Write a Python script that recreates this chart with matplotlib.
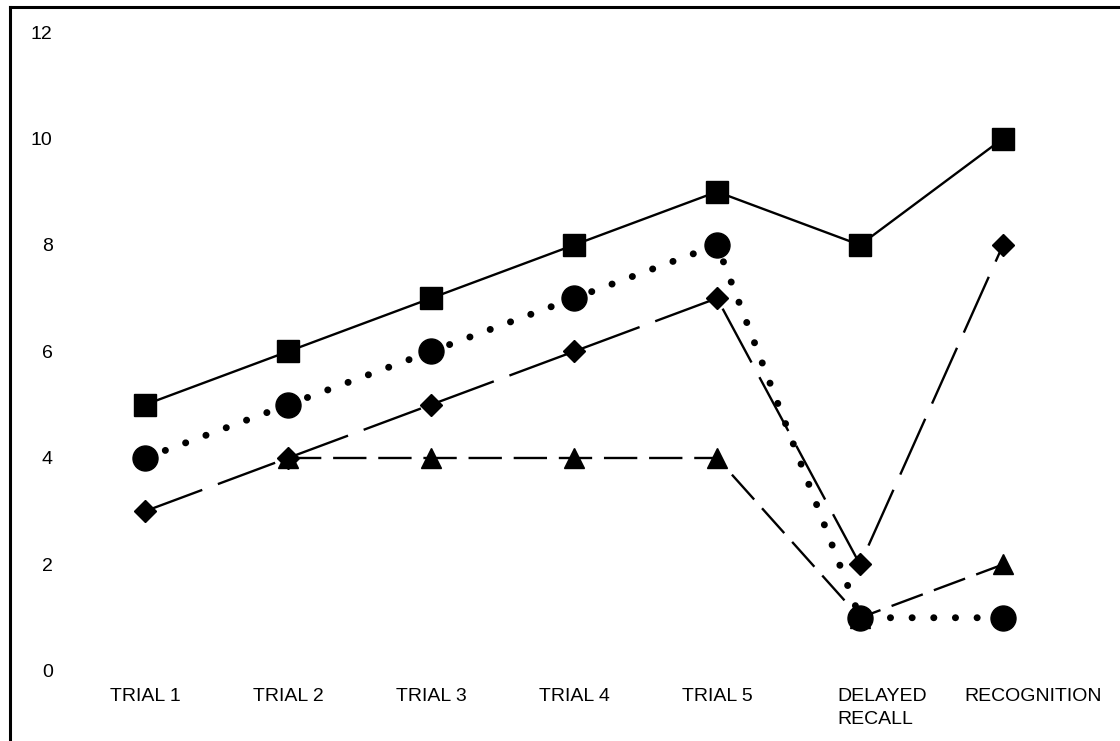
import matplotlib
matplotlib.use('Agg')
from matplotlib import pyplot as plt
from matplotlib.lines import Line2D
from matplotlib.transforms import ScaledTranslation

plt.rcParams['font.family'] = ['Liberation Sans', 'DejaVu Sans']
plt.rcParams['lines.scale_dashes'] = False

categories = ['TRIAL 1', 'TRIAL 2', 'TRIAL 3', 'TRIAL 4', 'TRIAL 5',
              'DELAYED\nRECALL', 'RECOGNITION']
squares = [5, 6, 7, 8, 9, 8, 10]
circles = [4, 5, 6, 7, 8, 1, 1]
diamonds = [3, 4, 5, 6, 7, 2, 8]
triangles = [float('nan'), 4, 4, 4, 4, 1, 2]  # no value at trial 1

x = list(range(len(categories)))

fig = plt.figure(figsize=(11.2, 7.41), dpi=100)
ax = fig.add_axes([0.0656, 0.0945, 0.8938, 0.8623])

ax.plot(x, triangles, color='black', lw=1.7, marker='^', ms=15,
        linestyle=(0, (24, 8.5)), zorder=2)
ax.plot(x, diamonds, color='black', lw=1.7, marker='D', ms=11,
        linestyle=(0, (44, 12)), zorder=3)
ax.plot(x, squares, color='black', lw=1.7, marker='s', ms=16, zorder=4)
ax.plot(x, circles, color='black', lw=5, marker='o', ms=18,
        linestyle=(0, (0.1, 15.5)), dash_capstyle='round', zorder=5)

ax.set_xlim(-0.5, 6.5)
ax.set_ylim(0, 12)
ax.set_yticks(range(0, 13, 2))
ax.set_xticks(x)
ax.set_xticklabels(categories)
ax.tick_params(axis='both', length=0, labelsize=14)
ax.tick_params(axis='y', pad=15)
ax.tick_params(axis='x', pad=12)
labs = ax.get_xticklabels()
for lab in labs:
    lab.set_multialignment('left')
    lab.set_linespacing(1.5)
# the last two labels sit a bit right of their points in the original
labs[5].set_transform(labs[5].get_transform() + ScaledTranslation(0.22, 0, fig.dpi_scale_trans))
labs[6].set_transform(labs[6].get_transform() + ScaledTranslation(0.30, 0, fig.dpi_scale_trans))
for s in ax.spines.values():
    s.set_visible(False)

# frame around the chart (only left and top edges visible)
fig.add_artist(Line2D([0.0085, 0.0085], [0, 0.991], transform=fig.transFigure,
                      color='black', lw=2.2))
fig.add_artist(Line2D([0.0085, 1.0], [0.991, 0.991], transform=fig.transFigure,
                      color='black', lw=2.2))

fig.savefig('out.png', dpi=100)
